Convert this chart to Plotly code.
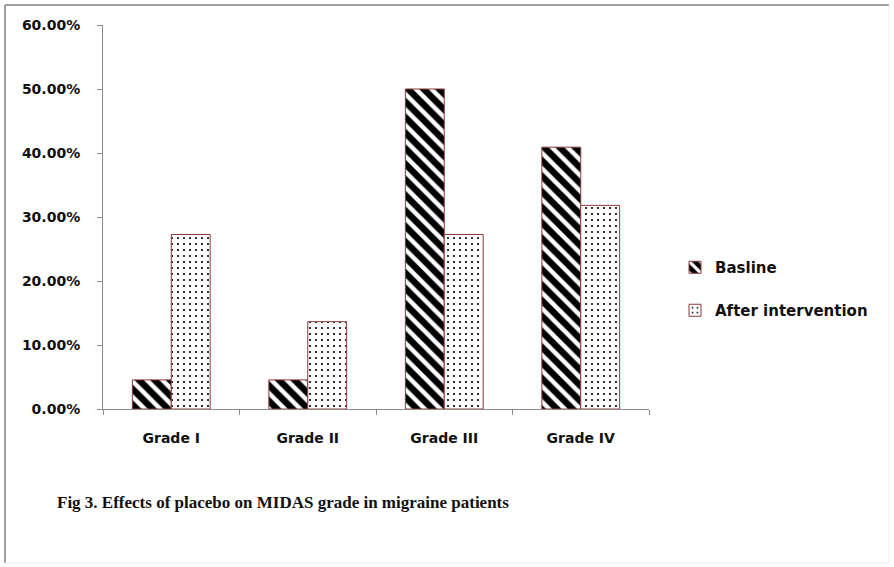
import plotly.graph_objects as go

categories = ["Grade I", "Grade II", "Grade III", "Grade IV"]
baseline = [0.0455, 0.0455, 0.50, 0.4091]
after = [0.2727, 0.1364, 0.2727, 0.3182]
series_names = ["Basline", "After intervention"]
y_ticks = [0, 0.1, 0.2, 0.3, 0.4, 0.5, 0.6]
caption = "Fig 3. Effects of placebo on MIDAS grade in migraine patients"

W, H = 894, 567
L, R, T, B = 103, 649, 25, 409  # plot area in pixels
pw, ph = R - L, B - T

def px(x):
    return (x - L) / pw

def py(y):
    return (B - y) / ph

edge = "#8b3a3a"
sans = "DejaVu Sans"

fig = go.Figure()
fig.add_trace(go.Bar(
    x=categories, y=baseline, name=series_names[0],
    marker=dict(color="black", line=dict(color=edge, width=1),
                pattern=dict(shape="\\", fillmode="replace", bgcolor="black",
                             fgcolor="white", size=11, solidity=0.4)),
    legend="legend",
))
fig.add_trace(go.Bar(
    x=categories, y=after, name=series_names[1],
    marker=dict(color="white", line=dict(color=edge, width=1),
                pattern=dict(shape=".", fillmode="replace", bgcolor="white",
                             fgcolor="black", size=6, solidity=0.1)),
    legend="legend2",
))

axis_col = "#8c8c8c"
fig.update_layout(
    width=W, height=H,
    margin=dict(l=L, r=W - R, t=T, b=H - B, pad=0),
    paper_bgcolor="white", plot_bgcolor="white",
    barmode="group", bargap=0.43, bargroupgap=0,
    showlegend=True,
    font=dict(family=sans, color="#111111"),
    xaxis=dict(
        type="category", showline=True, linecolor=axis_col, linewidth=1,
        ticks="outside", ticklen=5, tickcolor=axis_col, tickson="boundaries",
        showgrid=False, zeroline=False,
        tickfont=dict(family=sans, size=14, color="#111111", weight="bold"),
        ticklabelstandoff=16,
    ),
    yaxis=dict(
        range=[0, 0.6], tickvals=y_ticks, tickformat=".2%",
        showline=True, linecolor=axis_col, linewidth=1,
        ticks="outside", ticklen=5, tickcolor=axis_col,
        showgrid=False, zeroline=False,
        tickfont=dict(family=sans, size=14, color="#111111", weight="bold"),
        ticklabelstandoff=14,
    ),
    legend=dict(x=px(675), y=py(251), xanchor="left", yanchor="top",
                font=dict(family=sans, size=15, color="#111111", weight="bold"),
                bgcolor="rgba(0,0,0,0)"),
    legend2=dict(x=px(675), y=py(294), xanchor="left", yanchor="top",
                 font=dict(family=sans, size=15, color="#111111", weight="bold"),
                 bgcolor="rgba(0,0,0,0)"),
    shapes=[
        dict(type="line", xref="paper", yref="paper",
             x0=px(5), x1=px(889), y0=py(5), y1=py(5),
             line=dict(color="#a0a0a0", width=2), layer="below"),
        dict(type="line", xref="paper", yref="paper",
             x0=px(5), x1=px(5), y0=py(5), y1=py(563),
             line=dict(color="#a0a0a0", width=2), layer="below"),
        dict(type="line", xref="paper", yref="paper",
             x0=px(889), x1=px(889), y0=py(5), y1=py(563),
             line=dict(color="#eeeeee", width=1), layer="below"),
        dict(type="line", xref="paper", yref="paper",
             x0=px(5), x1=px(889), y0=py(563), y1=py(563),
             line=dict(color="#eeeeee", width=1), layer="below"),
    ],
    annotations=[dict(text=caption, xref="paper", yref="paper",
                      x=px(55), y=py(502), xanchor="left", yanchor="middle",
                      showarrow=False,
                      font=dict(family="Liberation Serif", size=17,
                                color="#111111", weight="bold"))],
)

fig.write_html("out.html", config={"displayModeBar": False},
               post_script="document.body.style.margin='0px';document.body.style.overflow='hidden';")
